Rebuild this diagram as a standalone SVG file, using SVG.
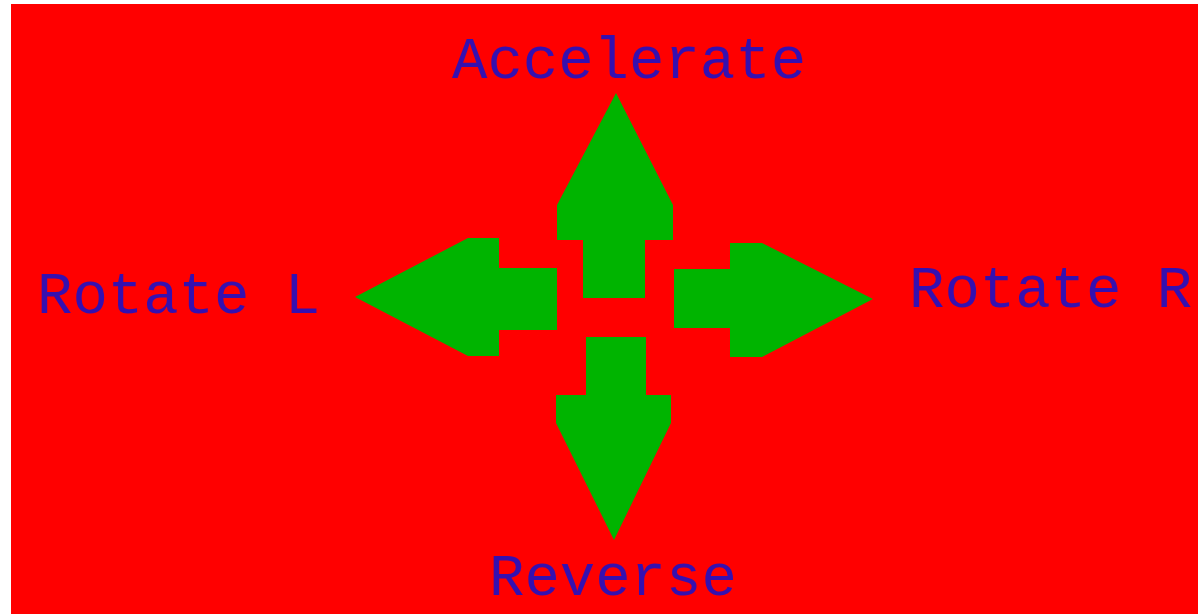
<svg xmlns="http://www.w3.org/2000/svg" width="1198" height="614" viewBox="0 0 1198 614">
<style>
.arrow{fill:#00b400;}
.lbl{font-family:"Liberation Mono","DejaVu Sans Mono",monospace;font-size:59px;fill:#3510b0;}
</style>
<rect x="0" y="0" width="1198" height="614" fill="#ffffff"/>
<rect x="11" y="4" width="1187" height="610" fill="#ff0000"/>
<g id="accelerate">
<polygon class="arrow" points="616,93 557,205 557,240 583,240 583,298 645,298 645,240 673,240 673,205"/>
<text class="lbl" x="452" y="78">Accelerate</text>
</g>
<g id="rotate-left">
<polygon class="arrow" points="355,297 468,238 499,238 499,268 557,268 557,330 499,330 499,356 468,356"/>
<text class="lbl" x="37" y="313">Rotate L</text>
</g>
<g id="rotate-right">
<polygon class="arrow" points="873,299 762,243 730,243 730,269 674,269 674,328 730,328 730,357 762,357"/>
<text class="lbl" x="909" y="307">Rotate R</text>
</g>
<g id="reverse">
<polygon class="arrow" points="614,540 556,423 556,395 586,395 586,337 646,337 646,395 671,395 671,423"/>
<text class="lbl" x="489" y="595">Reverse</text>
</g>
<g id="connectors"></g>
</svg>
